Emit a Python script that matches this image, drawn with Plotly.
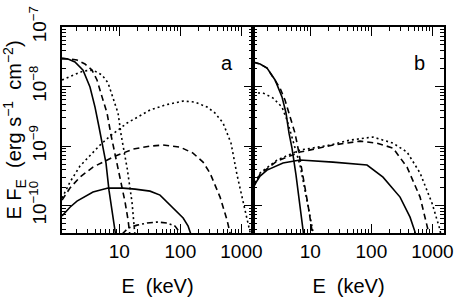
import plotly.graph_objects as go

# ---------------- data (E in keV, E*F_E in erg s^-1 cm^-2) ----------------
# panel a
a_solid_steep_E = [1.15, 1.44, 1.87, 2.54, 3.30, 3.99, 4.64, 5.20, 6.04, 6.76, 7.58, 8.49, 8.82]
a_solid_steep_F = [3.01e-8, 2.90e-8, 2.58e-8, 1.89e-8, 9.8e-9, 4.52e-9, 2.09e-9, 1.17e-9, 5.18e-10, 1.82e-10, 7.8e-11, 3.45e-11, 2.9e-11]

a_dash_steep_E = [1.15, 1.55, 2.02, 2.73, 3.56, 4.30, 5.20, 6.28, 7.30, 9.51, 12.4, 13.9, 15.0]
a_dash_steep_F = [2.90e-8, 2.90e-8, 2.79e-8, 2.39e-8, 1.89e-8, 1.29e-8, 6.7e-9, 3.59e-9, 1.53e-9, 4.27e-10, 1.15e-10, 5.7e-11, 3.0e-11]

a_dot_steep_E = [1.15, 1.74, 2.54, 3.70, 5.20, 6.52, 7.87, 9.51, 10.7, 13.4, 16.1, 17.4, 18.1]
a_dot_steep_F = [1.29e-8, 1.56e-8, 1.82e-8, 1.89e-8, 1.56e-8, 1.15e-8, 6.7e-9, 3.59e-9, 1.53e-9, 4.27e-10, 1.15e-10, 5.3e-11, 3.0e-11]

a_dot_broad_E = [1.15, 1.55, 2.26, 3.30, 4.82, 7.03, 13.4, 31.8, 56.1, 111, 174, 274, 370, 500, 676, 849, 1064, 1387, 1440]
a_dot_broad_F = [1.34e-10, 2.48e-10, 4.61e-10, 7.06e-10, 1.04e-9, 1.47e-9, 2.44e-9, 4.03e-9, 4.89e-9, 5.7e-9, 5.48e-9, 4.52e-9, 3.59e-9, 2.44e-9, 1.12e-9, 3.26e-10, 1.24e-10, 3.88e-11, 3.0e-11]

a_dash_broad_E = [1.15, 1.55, 2.26, 3.70, 7.87, 16.7, 31.8, 52.0, 98.6, 161, 235, 306, 447, 582, 652, 676]
a_dash_broad_F = [1.24e-10, 1.97e-10, 3.01e-10, 4.44e-10, 6.53e-10, 8.9e-10, 1.0e-9, 1.04e-9, 9.6e-10, 7.63e-10, 5.38e-10, 3.52e-10, 1.39e-10, 5.7e-11, 3.45e-11, 2.9e-11]

a_solid_broad_E = [1.15, 1.55, 2.02, 2.73, 3.70, 6.52, 11.5, 18.1, 31.8, 46.4, 67.7, 88.1, 111, 134, 150, 155]
a_solid_broad_F = [6.7e-11, 9.4e-11, 1.19e-10, 1.44e-10, 1.69e-10, 1.97e-10, 1.97e-10, 1.89e-10, 1.75e-10, 1.50e-10, 1.02e-10, 7.8e-11, 6.2e-11, 4.52e-11, 3.32e-11, 2.9e-11]

a_dashdot_E = [11.1, 13.9, 19.5, 28.4, 41.4, 60.4, 81.7, 102]
a_dashdot_F = [3.32e-11, 4.19e-11, 4.7e-11, 5.1e-11, 5.3e-11, 5.1e-11, 4.52e-11, 3.32e-11]

# panel b
b_solid_steep_E = [1.15, 1.50, 1.95, 2.64, 3.43, 3.99, 4.47, 5.00, 5.82, 6.76, 7.58, 7.87]
b_solid_steep_F = [2.58e-8, 2.39e-8, 2.05e-8, 1.29e-8, 6.7e-9, 3.59e-9, 1.65e-9, 9.25e-10, 3.26e-10, 1.02e-10, 3.88e-11, 2.9e-11]

b_dash_steep_E = [1.15, 1.50, 1.95, 2.45, 3.18, 3.84, 4.64, 5.60, 6.28, 7.58, 9.16, 10.6, 11.1]
b_dash_steep_F = [2.58e-8, 2.39e-8, 2.05e-8, 1.45e-8, 9.44e-9, 5.93e-9, 3.07e-9, 1.65e-9, 9.25e-10, 3.26e-10, 1.02e-10, 3.88e-11, 2.9e-11]

b_dot_steep_E = [1.15, 1.67, 2.45, 3.43, 4.14, 5.00, 5.60, 6.76, 8.17, 9.86, 11.1, 11.5]
b_dot_steep_F = [7.8e-9, 7.8e-9, 6.41e-9, 4.52e-9, 2.74e-9, 1.42e-9, 9.6e-10, 4.80e-10, 1.82e-10, 6.9e-11, 3.45e-11, 2.9e-11]

b_dot_broad_E = [1.15, 1.50, 2.84, 6.76, 21.0, 44.7, 106, 226, 384, 628, 986, 1337, 1387]
b_dot_broad_F = [2.05e-10, 3.52e-10, 5.82e-10, 8.57e-10, 1.04e-9, 1.26e-9, 1.42e-9, 1.12e-9, 7.93e-10, 3.52e-10, 1.10e-10, 3.88e-11, 2.9e-11]

b_dash_broad_E = [1.15, 1.50, 2.84, 6.76, 23.5, 65.2, 124, 226, 384, 628, 849, 881]
b_dash_broad_F = [1.97e-10, 3.38e-10, 5.6e-10, 7.93e-10, 1.04e-9, 1.21e-9, 1.12e-9, 9.25e-10, 4.44e-10, 1.39e-10, 3.88e-11, 2.9e-11]

b_solid_broad_E = [1.15, 1.50, 1.95, 3.56, 6.76, 23.5, 84.9, 155, 295, 430, 520, 535]
b_solid_broad_F = [2.05e-10, 3.13e-10, 3.95e-10, 5.18e-10, 5.82e-10, 5.38e-10, 4.80e-10, 3.01e-10, 1.39e-10, 6.4e-11, 3.59e-11, 2.9e-11]

x_tickvals = [10, 100, 1000]
x_ticktext = ["10", "100", "1000"]
y_tickvals = [1e-10, 1e-9, 1e-8, 1e-7]
y_ticktext = ["10<sup>\u221210</sup>", "10<sup>\u22129</sup>", "10<sup>\u22128</sup>", "10<sup>\u22127</sup>"]
panel_labels = ["a", "b"]

# ---------------- styles ----------------
SOLID = "solid"
DASH = "6px,4px"
DOT = "2px,3px"
DASHDOT = "6px,3px,2px,3px"

series = [
    ("x", "y", a_solid_steep_E, a_solid_steep_F, SOLID),
    ("x", "y", a_dash_steep_E, a_dash_steep_F, DASH),
    ("x", "y", a_dot_steep_E, a_dot_steep_F, DOT),
    ("x", "y", a_dot_broad_E, a_dot_broad_F, DOT),
    ("x", "y", a_dash_broad_E, a_dash_broad_F, DASH),
    ("x", "y", a_solid_broad_E, a_solid_broad_F, SOLID),
    ("x", "y", a_dashdot_E, a_dashdot_F, DASHDOT),
    ("x2", "y2", b_solid_steep_E, b_solid_steep_F, SOLID),
    ("x2", "y2", b_dash_steep_E, b_dash_steep_F, DASH),
    ("x2", "y2", b_dot_steep_E, b_dot_steep_F, DOT),
    ("x2", "y2", b_dot_broad_E, b_dot_broad_F, DOT),
    ("x2", "y2", b_dash_broad_E, b_dash_broad_F, DASH),
    ("x2", "y2", b_solid_broad_E, b_solid_broad_F, SOLID),
]

fig = go.Figure()
for xa, ya, E, F, dash in series:
    fig.add_trace(go.Scatter(x=E, y=F, xaxis=xa, yaxis=ya, mode="lines",
                             line=dict(color="black", width=1.6, dash=dash),
                             showlegend=False, hoverinfo="skip"))

FONT = "Liberation Sans, Arial, Helvetica, sans-serif"
XR = [0.06, 3.19]
YR = [-10.46, -7.0]

xcommon = dict(type="log", range=XR, showgrid=False, zeroline=False, automargin=False,
               showline=True, linecolor="black", linewidth=1.5, mirror="allticks",
               ticks="inside", ticklen=9, tickwidth=1.2, tickcolor="black",
               tickvals=x_tickvals, ticktext=x_ticktext,
               tickfont=dict(family=FONT, size=19, color="black"),
               ticklabelstandoff=0, ticklabeloverflow="allow",
               minor=dict(ticks="inside", ticklen=4, tickwidth=1, tickcolor="black", dtick="D1", showgrid=False),
               title=dict(text="E  (keV)", font=dict(family=FONT, size=20, color="black"), standoff=18))
ycommon = dict(type="log", range=YR, showgrid=False, zeroline=False, automargin=False,
               showline=True, linecolor="black", linewidth=1.5, mirror="allticks",
               ticks="inside", ticklen=9, tickwidth=1.2, tickcolor="black",
               tickvals=y_tickvals, ticktext=y_ticktext, ticklabeloverflow="allow",
               minor=dict(ticks="inside", ticklen=4, tickwidth=1, tickcolor="black", dtick="D1", showgrid=False))

fig.update_layout(
    width=459, height=300,
    margin=dict(l=62, r=15, t=27, b=67, autoexpand=False),
    paper_bgcolor="white", plot_bgcolor="white",
    font=dict(family=FONT, color="black"),
    xaxis=dict(domain=[0, 0.5], anchor="y", **xcommon),
    xaxis2=dict(domain=[0.5, 1], anchor="y2", **xcommon),
    yaxis=dict(anchor="x", tickangle=-90,
               tickfont=dict(family=FONT, size=19, color="black"),
               ticklabelstandoff=7,
               title=dict(text="E F<sub>E</sub>  (erg s<sup>\u22121</sup>  cm<sup>\u22122</sup>)",
                          font=dict(family=FONT, size=20, color="black"), standoff=21),
               **ycommon),
    yaxis2=dict(anchor="x2", showticklabels=False, **ycommon),
    annotations=[
        dict(text=panel_labels[0], xref="x domain", yref="y domain", x=0.905, y=0.888,
             showarrow=False, font=dict(family=FONT, size=20, color="black")),
        dict(text=panel_labels[1], xref="x2 domain", yref="y2 domain", x=0.91, y=0.888,
             showarrow=False, font=dict(family=FONT, size=20, color="black")),
    ],
)

# remove the default 8px page margin so the figure sits at the window's top-left corner
fig.write_html("out.html", config={"displayModeBar": False},
               post_script="document.body.style.margin='0';")
